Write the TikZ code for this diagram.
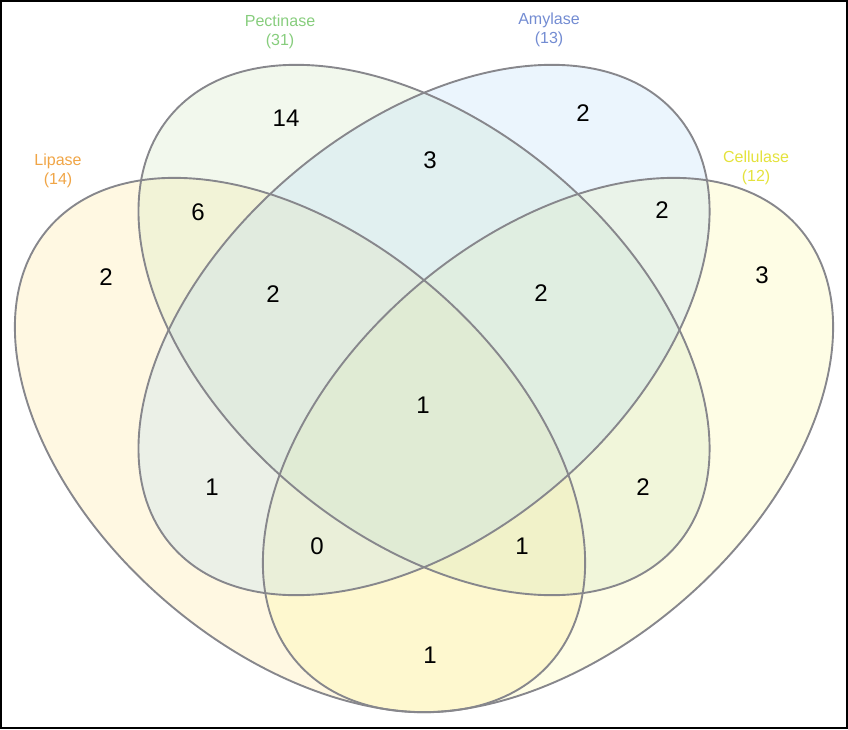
\documentclass[tikz,border=0pt]{standalone}
\usepackage{fontspec}
\setmainfont{Liberation Sans}
\usepackage{tikz}

\definecolor{lipcol}{RGB}{255,228,140}
\definecolor{pectcol}{RGB}{205,228,185}
\definecolor{amycol}{RGB}{175,214,248}
\definecolor{cellcol}{RGB}{251,246,150}
\definecolor{rimcol}{RGB}{135,135,140}
\definecolor{liptext}{RGB}{240,165,70}
\definecolor{pecttext}{RGB}{135,205,125}
\definecolor{amytext}{RGB}{115,140,210}
\definecolor{celltext}{RGB}{228,226,60}

\begin{document}
\begin{tikzpicture}[
    setfill/.style={fill opacity=0.25},
    setrim/.style={draw=rimcol, line width=0.9pt},
    count/.style={font=\fontsize{11.4}{13}\selectfont},
    setname/.style={align=center, font=\fontsize{7.6}{9}\selectfont}]
        \useasboundingbox (0,0) rectangle (14.133,12.15);
        \draw[line width=0.8pt] (0.014,0.014) rectangle (14.119,12.136);

        % Set fills
        \fill[setfill, lipcol, rotate around={-40.8:(5,4.733)}] (5,4.733) ellipse (5.533 and 3.433);
        \fill[setfill, cellcol, rotate around={40.8:(9.133,4.733)}] (9.133,4.733) ellipse (5.533 and 3.433);
        \fill[setfill, pectcol, rotate around={-40.3:(7.067,6.65)}] (7.067,6.65) ellipse (5.533 and 3.4);
        \fill[setfill, amycol, rotate around={40.3:(7.067,6.65)}] (7.067,6.65) ellipse (5.533 and 3.4);

        % Set outlines
        \draw[setrim, rotate around={-40.8:(5,4.733)}] (5,4.733) ellipse (5.533 and 3.433);
        \draw[setrim, rotate around={40.8:(9.133,4.733)}] (9.133,4.733) ellipse (5.533 and 3.433);
        \draw[setrim, rotate around={-40.3:(7.067,6.65)}] (7.067,6.65) ellipse (5.533 and 3.4);
        \draw[setrim, rotate around={40.3:(7.067,6.65)}] (7.067,6.65) ellipse (5.533 and 3.4);

        % Set names
        \node[setname, liptext] (lipase) at (0.967,9.3) {Lipase\\(14)};
        \node[setname, pecttext] (pectinase) at (4.667,11.62) {Pectinase\\(31)};
        \node[setname, amytext] (amylase) at (9.15,11.65) {Amylase\\(13)};
        \node[setname, celltext] (cellulase) at (12.6,9.36) {Cellulase\\(12)};

        % Counts
        \node[count] (p) at (4.767,10.183) {14};
        \node[count] (a) at (9.717,10.267) {2};
        \node[count] (pa) at (7.167,9.483) {3};
        \node[count] (lp) at (3.3,8.617) {6};
        \node[count] (ac) at (11.033,8.65) {2};
        \node[count] (l) at (1.767,7.533) {2};
        \node[count] (c) at (12.7,7.567) {3};
        \node[count] (lpa) at (4.55,7.25) {2};
        \node[count] (pac) at (9.017,7.267) {2};
        \node[count] (lpac) at (7.05,5.4) {1};
        \node[count] (la) at (3.533,4.033) {1};
        \node[count] (pc) at (10.717,4.033) {2};
        \node[count] (lac) at (5.283,3.05) {0};
        \node[count] (lpc) at (8.7,3.05) {1};
        \node[count] (lc) at (7.167,1.233) {1};
    \end{tikzpicture}
\end{document}
